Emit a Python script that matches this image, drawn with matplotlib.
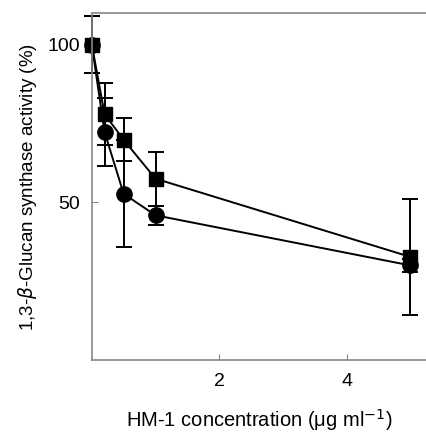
import matplotlib.pyplot as plt
import numpy as np

plt.rcParams['font.family'] = ['Liberation Sans', 'DejaVu Sans']

# HM-1 concentration (ug/ml)
conc = [0, 0.2, 0.5, 1, 5]

# squares
sq_y = [100, 78, 69.8, 57.5, 32.7]
sq_err = [9, 9.7, 6.8, 8.5, 18.5]

# circles
ci_y = [100, 72.3, 52.7, 45.9, 30]
ci_err = [9, 10.7, 17, 3, 2]

fig = plt.figure(figsize=(4.27, 4.38), dpi=100)
ax = fig.add_axes([0.215, 0.178, 0.785, 0.792])

for y, e, m, ms in [(ci_y, ci_err, 'o', 11), (sq_y, sq_err, 's', 10.5)]:
    ln = ax.errorbar(conc, y, yerr=e, fmt='-' + m, color='black', ms=ms,
                     lw=1.4, elinewidth=1.4, capsize=5.5, capthick=1.4)
    for art in ln.get_children():
        art.set_clip_on(False)

ax.set_xlim(0, 5.26)
ax.set_ylim(0, 110)
ax.set_xticks([2, 4])
ax.set_yticks([50, 100])
ax.tick_params(labelsize=14, length=4, color='#888888', direction='in')
ax.tick_params(axis='x', pad=9)
ax.tick_params(axis='y', pad=8.5)

ax.spines['right'].set_visible(False)
for s in ['left', 'bottom', 'top']:
    ax.spines[s].set_color('#888888')
    ax.spines[s].set_linewidth(1.2)

ax.set_ylabel(r'1,3-$\beta$-Glucan synthase activity (%)', fontsize=13.5, labelpad=6)
ax.set_xlabel(r'HM-1 concentration ($\mathregular{\mu}$g ml$^{-1}$)', fontsize=14.5, labelpad=13)

fig.savefig('out.png', dpi=100)
